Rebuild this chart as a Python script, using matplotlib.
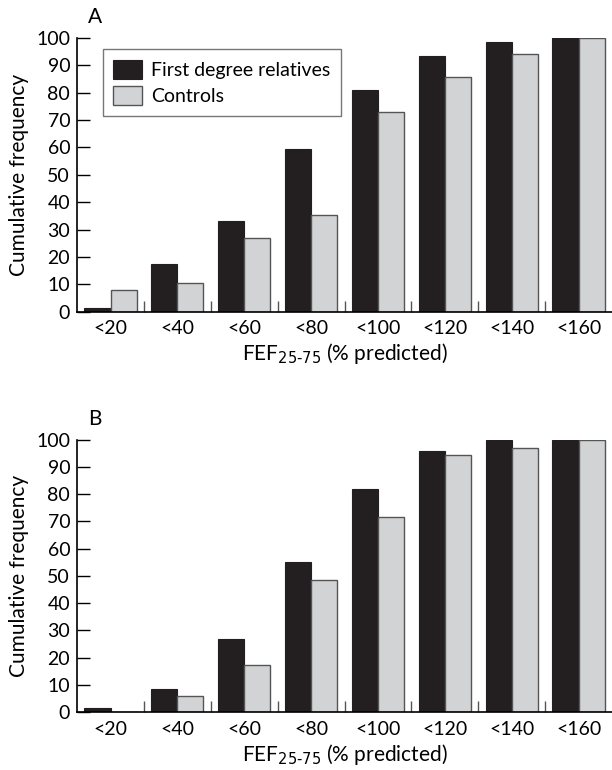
import numpy as np
import matplotlib
matplotlib.use("Agg")
import matplotlib.pyplot as plt
from matplotlib.ticker import FixedLocator

categories = ["<20", "<40", "<60", "<80", "<100", "<120", "<140", "<160"]
relatives_a = [1.5, 17.5, 33, 59.5, 81, 93.5, 98.5, 100]
controls_a = [8, 10.5, 27, 35.5, 73, 85.5, 94, 100]
relatives_b = [1.5, 8.5, 27, 55, 82, 96, 100, 100]
controls_b = [0, 6, 17.5, 48.5, 71.5, 94.5, 97, 100]

BLACK = "#231f20"
GREY = "#d1d3d4"
EDGE = "#555555"

plt.rcParams["font.family"] = ["Lato", "DejaVu Sans"]
plt.rcParams["font.size"] = 14


def draw_panel(ax, rel, ctl, letter, legend=False):
    x = np.arange(len(categories))
    w = 0.39
    ax.bar(x - w / 2, rel, w, color=BLACK, edgecolor=BLACK, linewidth=0.8,
           label="First degree relatives")
    ax.bar(x + w / 2, ctl, w, color=GREY, edgecolor=EDGE, linewidth=1.0,
           label="Controls")
    ax.set_xlim(-0.5, len(categories) - 0.5)
    ax.set_ylim(0, 100)
    ax.set_yticks(range(0, 101, 10))
    ax.set_xticks(x)
    ax.set_xticklabels(categories)
    ax.xaxis.set_minor_locator(FixedLocator(np.arange(0.5, len(categories) - 0.5, 1)))
    ax.tick_params(axis="x", which="major", length=0, pad=6)
    ax.tick_params(axis="x", which="minor", direction="in", length=8, width=1, color=EDGE)
    ax.tick_params(axis="y", direction="in", length=9, width=1, pad=5)
    ax.spines["top"].set_visible(False)
    ax.spines["right"].set_visible(False)
    ax.spines["left"].set_linewidth(1.2)
    ax.spines["bottom"].set_linewidth(1.2)
    ax.set_ylabel("Cumulative frequency", fontsize=15, labelpad=5)
    ax.set_xlabel(r"FEF$_{25\text{-}75}$ (% predicted)", fontsize=15, labelpad=3)
    ax.text(0.02, 1.04, letter, transform=ax.transAxes, fontsize=15, va="bottom")
    if legend:
        leg = ax.legend(loc="upper left", bbox_to_anchor=(0.048, 0.958), fancybox=False,
                        edgecolor=EDGE, fontsize=14, handlelength=1.45, handleheight=1.15,
                        borderpad=0.55, labelspacing=0.35, handletextpad=0.5,
                        borderaxespad=0)
        leg.get_frame().set_linewidth(1.0)


fig = plt.figure(figsize=(6.12, 7.70), dpi=100)
ax_a = fig.add_axes([0.126, 0.595, 0.874, 0.356])
ax_b = fig.add_axes([0.126, 0.075, 0.874, 0.354])
draw_panel(ax_a, relatives_a, controls_a, "A", legend=True)
draw_panel(ax_b, relatives_b, controls_b, "B")

fig.savefig("out.png", dpi=100)
